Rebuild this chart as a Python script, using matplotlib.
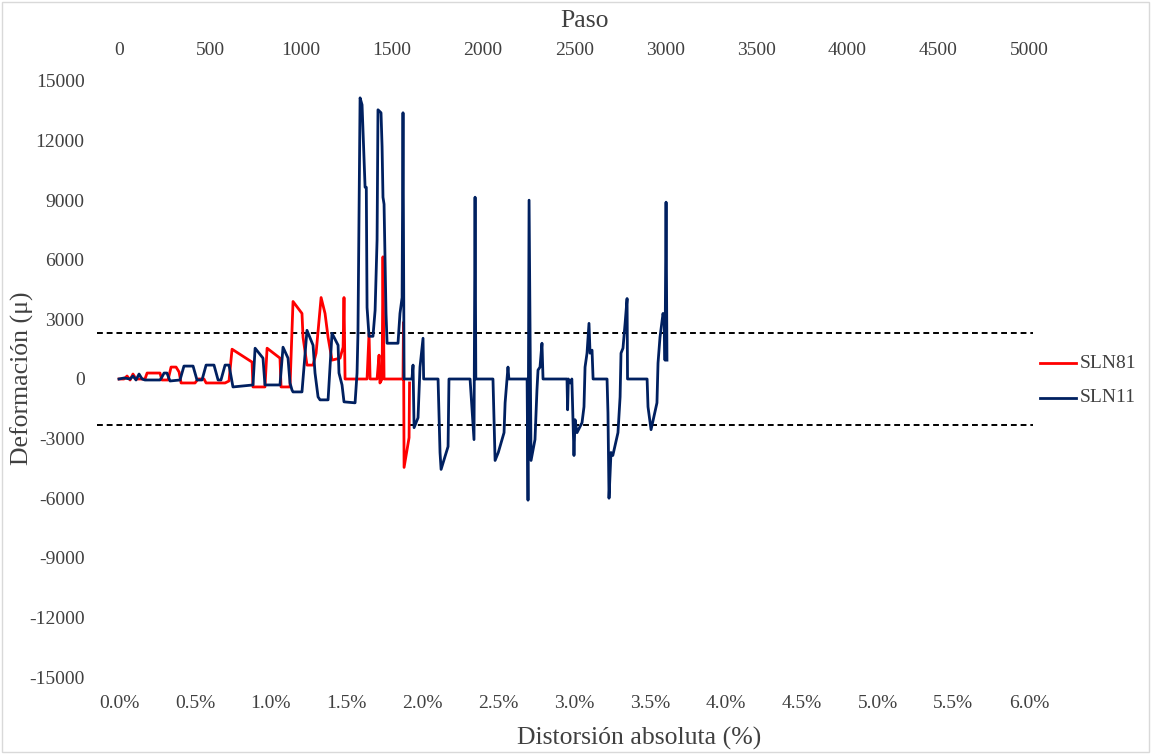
import numpy as np
import matplotlib.pyplot as plt
from matplotlib.patches import Rectangle
from matplotlib.lines import Line2D

plt.rcParams['font.family'] = ['Liberation Serif', 'DejaVu Serif']

# SLN81 (red) - distortion (%) vs strain (micro)
sln81_x = [0.000, 0.033, 0.053, 0.073, 0.092, 0.112, 0.171, 0.185, 0.270, 0.283,
           0.323, 0.343, 0.376, 0.396, 0.409, 0.501, 0.521, 0.560, 0.574, 0.699,
           0.725, 0.745, 0.877, 0.883, 0.962, 0.976, 1.061, 1.068, 1.127, 1.147,
           1.206, 1.213, 1.239, 1.279, 1.299, 1.332, 1.358, 1.378, 1.404, 1.457,
           1.477, 1.483, 1.490, 1.635, 1.648, 1.655, 1.701, 1.714, 1.720, 1.734,
           1.740, 1.747, 1.872, 1.875, 1.879, 1.912, 1.915]
sln81_y = [0, 0, 150, -50, 250, 0, 0, 300, 300, -50,
           -50, 600, 600, 350, -200, -200, 0, 0, -200, -200,
           -100, 1500, 850, -400, -400, 1550, 1050, -400, -400, 3900,
           3300, 2100, 700, 700, 1300, 4100, 3300, 2100, 950, 1050,
           1600, 4100, 0, 0, 2300, 0, 0, 1200, -200, 0,
           6150, 0, 0, 2850, -4450, -2950, -200]

# SLN11 (navy)
sln11_x = [0.000, 0.033, 0.073, 0.092, 0.112, 0.132, 0.152, 0.171, 0.270, 0.283,
           0.297, 0.316, 0.336, 0.402, 0.428, 0.488, 0.514, 0.547, 0.574, 0.626,
           0.653, 0.672, 0.699, 0.725, 0.751, 0.883, 0.897, 0.949, 0.962, 1.061,
           1.081, 1.114, 1.127, 1.140, 1.147, 1.206, 1.239, 1.279, 1.292, 1.312,
           1.325, 1.378, 1.404, 1.444, 1.450, 1.470, 1.483, 1.556, 1.569, 1.575,
           1.589, 1.602, 1.608, 1.622, 1.630, 1.635, 1.641, 1.648, 1.674, 1.688,
           1.701, 1.707, 1.727, 1.734, 1.740, 1.747, 1.760, 1.767, 1.839, 1.852,
           1.866, 1.872, 1.879, 1.931, 1.938, 1.945, 1.971, 1.984, 2.004, 2.008,
           2.103, 2.109, 2.116, 2.123, 2.169, 2.175, 2.314, 2.340, 2.347, 2.352,
           2.465, 2.479, 2.500, 2.538, 2.545, 2.558, 2.564, 2.570, 2.690, 2.696,
           2.703, 2.716, 2.742, 2.755, 2.762, 2.775, 2.788, 2.795, 2.953, 2.957,
           2.962, 2.975, 2.985, 2.993, 2.999, 3.006, 3.019, 3.052, 3.065, 3.072,
           3.085, 3.098, 3.105, 3.118, 3.125, 3.217, 3.223, 3.230, 3.243, 3.255,
           3.289, 3.303, 3.309, 3.322, 3.336, 3.349, 3.352, 3.481, 3.487, 3.507,
           3.546, 3.553, 3.566, 3.586, 3.595, 3.599, 3.606, 3.612]
sln11_y = [0, 50, 0, 150, -50, 250, 0, -50, -50, 100,
           300, 300, -100, -50, 650, 650, -50, -50, 700, 700,
           -50, -50, 700, 700, -400, -300, 1550, 1050, -300, -300,
           1600, 1050, -200, -550, -650, -650, 2450, 1700, 300, -900,
           -1050, -1050, 2300, 1700, 300, -300, -1150, -1200, 300, 2300,
           14150, 13800, 12550, 9650, 9650, 3600, 2950, 2150, 2150, 3450,
           7000, 13550, 13400, 11700, 9150, 8800, 3300, 1800, 1800, 3300,
           4100, 13400, 0, 0, 700, -2450, -1950, 600, 2050, 0,
           0, -1700, -3700, -4550, -3400, 0, 0, -3050, 9150, 0,
           0, -4100, -3700, -2700, -1200, 0, 600, 0, 0, -6100,
           9000, -4100, -3050, -550, 450, 600, 1800, 0, 0, -1550,
           0, -200, 0, -2200, -3850, -2050, -2700, -2200, -1400, 600,
           1300, 2800, 1300, 1450, 0, 0, -1700, -6000, -3700, -3850,
           -2700, -900, 1300, 1550, 2800, 4050, 0, 0, -1400, -2550,
           -1200, 800, 2100, 3300, 2850, 950, 8900, 950]

limit = 2300   # dashed threshold lines
x_ticks = np.arange(0, 6.01, 0.5)
paso_ticks = np.arange(0, 5001, 500)
y_ticks = np.arange(-15000, 15001, 3000)
paso_per_pct = 5000 / 6.0

text_col = '#404040'
W, H = 1151, 754
fig = plt.figure(figsize=(W / 100, H / 100), dpi=100)
ax = fig.add_axes([0.0843, 0.1021, 0.8132, 0.7905])

xmin, xmax = -0.145, 6.025
ax.axhline(limit, color='black', ls=(0, (3, 2)), lw=1.4)
ax.axhline(-limit, color='black', ls=(0, (3, 2)), lw=1.4)
ax.plot(sln81_x, sln81_y, color='#ff0000', lw=2)
ax.plot(sln11_x, sln11_y, color='#002060', lw=2)

ax.set_xlim(xmin, xmax)
ax.set_ylim(-15000, 15000)
ax.set_xticks(x_ticks)
ax.set_xticklabels([f'{v:.1f}%' for v in x_ticks])
ax.set_yticks(y_ticks)
ax.set_yticklabels([str(v) for v in y_ticks])
ax.tick_params(length=0, labelsize=14, colors=text_col)
ax.tick_params(axis='x', pad=13)
ax.tick_params(axis='y', pad=9)
for s in ax.spines.values():
    s.set_visible(False)

ax2 = ax.twiny()
ax2.set_xlim(xmin * paso_per_pct, xmax * paso_per_pct)
ax2.set_xticks(paso_ticks)
ax2.set_xticklabels([str(v) for v in paso_ticks])
ax2.tick_params(length=0, labelsize=14, colors=text_col, pad=16)
for s in ax2.spines.values():
    s.set_visible(False)

fig.text(585 / W, 1 - 21 / H, 'Paso', ha='center', va='center', fontsize=18.5, color=text_col)
fig.text(639 / W, 1 - 738 / H, 'Distorsión absoluta (%)', ha='center', va='center',
         fontsize=18.5, color=text_col)
fig.text(22 / W, 1 - 378 / H, 'Deformación (μ)', ha='center', va='center',
         rotation=90, fontsize=18.5, color=text_col)

# legend drawn by hand to the right of the plot
for name, col, yp in [('SLN81', '#ff0000', 363), ('SLN11', '#002060', 398)]:
    fig.add_artist(Line2D([1040 / W, 1076 / W], [1 - yp / H, 1 - yp / H],
                          color=col, lw=2, transform=fig.transFigure))
    fig.text(1080 / W, 1 - yp / H, name, ha='left', va='center', fontsize=14, color=text_col)

fig.add_artist(Rectangle((0.002, 0.002), 0.996, 0.996, transform=fig.transFigure,
                         fill=False, edgecolor='#d9d9d9', lw=1))

fig.savefig('out.png', dpi=100)
